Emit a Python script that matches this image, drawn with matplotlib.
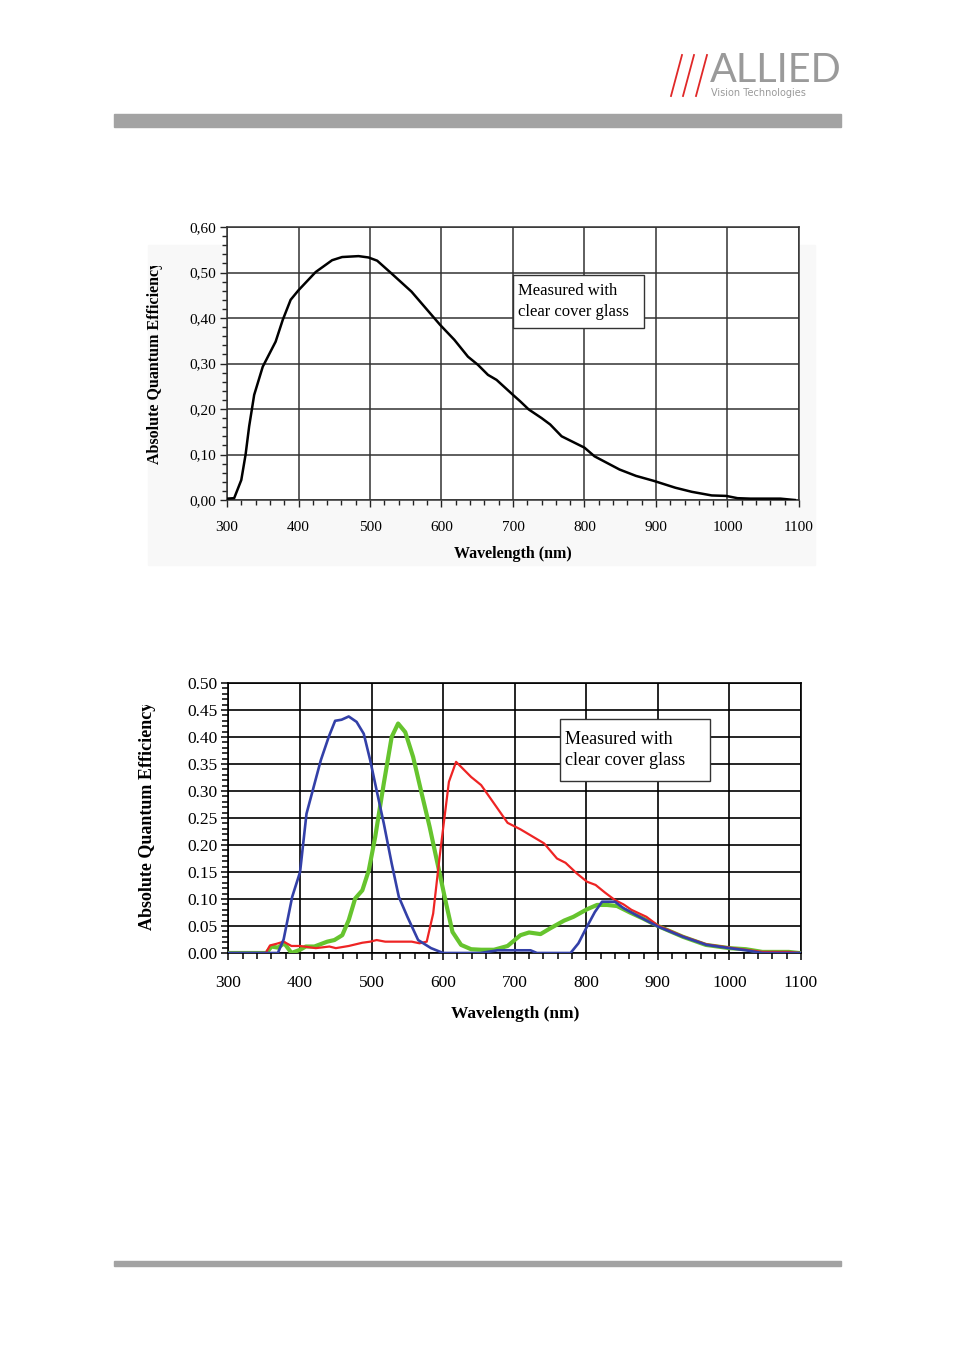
import numpy as np
import matplotlib
matplotlib.use('Agg')
import matplotlib.pyplot as plt
from matplotlib.patches import Rectangle
from matplotlib.lines import Line2D
from matplotlib.transforms import Bbox
from matplotlib.ticker import MultipleLocator

plt.rcParams['font.family'] = ['Liberation Serif', 'DejaVu Serif']

# ---- data ----
# top chart: monochrome sensor
wl_mono = [300, 310, 320, 326, 331, 338, 350, 368, 378, 389,
           400, 424, 447, 461, 484, 498, 510, 530, 558, 598,
           618, 637, 651, 665, 677, 700, 710, 722, 740, 752,
           768, 800, 814, 849, 872, 897, 927, 950, 978, 998,
           1014, 1032, 1074, 1094]
qe_mono = [0.003, 0.004, 0.044, 0.10, 0.162, 0.231, 0.293, 0.348, 0.396, 0.44,
           0.461, 0.501, 0.527, 0.534, 0.536, 0.533, 0.526, 0.498, 0.458, 0.385,
           0.352, 0.315, 0.297, 0.275, 0.264, 0.231, 0.217, 0.199, 0.180, 0.166,
           0.140, 0.115, 0.096, 0.067, 0.053, 0.042, 0.027, 0.018, 0.010, 0.009,
           0.004, 0.003, 0.003, 0.0]

# bottom chart: colour sensor
wl_blue = [300, 369, 377, 389, 400, 409, 429, 440, 449, 458,
           468, 479, 489, 498, 507, 517, 528, 538, 550, 565,
           583, 600, 652, 676, 722, 731, 778, 789, 801, 812, 822,
           840, 852, 870, 900, 935, 968, 1000, 1023, 1046, 1100]
qe_blue = [0, 0, 0.025, 0.104, 0.150, 0.258, 0.357, 0.400, 0.430, 0.432,
           0.438, 0.428, 0.406, 0.357, 0.301, 0.240, 0.166, 0.104, 0.067, 0.024,
           0.009, 0.0, 0.0, 0.005, 0.005, 0.0, 0.0, 0.018, 0.049, 0.076, 0.095,
           0.095, 0.083, 0.070, 0.049, 0.030, 0.015, 0.009, 0.005, 0.0, 0.0]

wl_red = [300, 352, 358, 367, 377, 388, 400, 422, 441, 450,
          468, 487, 498, 507, 519, 556, 567, 577, 586, 595,
          608, 618, 630, 639, 653, 671, 690, 708, 722, 741,
          759, 771, 787, 801, 813, 826, 840, 852, 863, 884,
          900, 935, 968, 1000, 1023, 1046, 1083, 1100]
qe_red = [0, 0, 0.014, 0.017, 0.021, 0.013, 0.013, 0.009, 0.012, 0.009,
          0.013, 0.019, 0.021, 0.024, 0.021, 0.021, 0.018, 0.021, 0.073, 0.178,
          0.317, 0.354, 0.338, 0.326, 0.311, 0.277, 0.241, 0.229, 0.218, 0.203,
          0.175, 0.167, 0.147, 0.132, 0.126, 0.112, 0.098, 0.090, 0.080, 0.067,
          0.051, 0.031, 0.016, 0.010, 0.006, 0.002, 0.002, 0.0]

wl_green = [300, 353, 360, 369, 378, 388, 400, 408, 420, 438,
            448, 459, 468, 477, 487, 496, 505, 517, 528, 537,
            547, 558, 570, 581, 593, 604, 613, 625, 639, 653,
            671, 690, 708, 720, 736, 750, 769, 782, 801, 815,
            829, 843, 861, 879, 900, 935, 967, 1000, 1023, 1046,
            1083, 1097, 1100]
qe_green = [0, 0, 0.012, 0.010, 0.018, 0.0, 0.006, 0.012, 0.012, 0.021,
            0.024, 0.033, 0.061, 0.101, 0.116, 0.153, 0.215, 0.314, 0.400, 0.425,
            0.409, 0.363, 0.295, 0.234, 0.160, 0.092, 0.039, 0.015, 0.007, 0.006,
            0.006, 0.013, 0.033, 0.038, 0.035, 0.046, 0.060, 0.067, 0.081, 0.089,
            0.089, 0.087, 0.075, 0.064, 0.050, 0.030, 0.015, 0.009, 0.007, 0.002,
            0.002, 0.0, 0.0]

x_ticks = [300, 400, 500, 600, 700, 800, 900, 1000, 1100]
y_ticks_top = [0.0, 0.1, 0.2, 0.3, 0.4, 0.5, 0.6]
y_ticks_bot = [0.0, 0.05, 0.10, 0.15, 0.20, 0.25, 0.30, 0.35, 0.40, 0.45, 0.50]

note = "Measured with\nclear cover glass"
ylab = "Absolute Quantum Efficiency"
xlab = "Wavelength (nm)"

W, H = 954, 1350
fig = plt.figure(figsize=(W / 100, H / 100), dpi=100)
fig.patch.set_facecolor('white')


def fx(px):
    return px / W


def fy(py):
    return 1 - py / H


# ---- page decoration ----
fig.patches.append(Rectangle((fx(114), fy(127)), fx(841) - fx(114), fy(114) - fy(127),
                             transform=fig.transFigure, color='#a3a3a3', zorder=0))
fig.patches.append(Rectangle((fx(114), fy(1266)), fx(841) - fx(114), fy(1261) - fy(1266),
                             transform=fig.transFigure, color='#a3a3a3', zorder=0))
# faint panel behind the top chart
fig.patches.append(Rectangle((fx(148), fy(565)), fx(815) - fx(148), fy(245) - fy(565),
                             transform=fig.transFigure, color='#f8f8f8', zorder=0))
for x0 in (671, 683, 696):
    fig.add_artist(Line2D([fx(x0), fx(x0 + 11)], [fy(96), fy(55)],
                          transform=fig.transFigure, color='#e02828', lw=1.3))
fig.text(fx(710), fy(70), "ALLIED", fontsize=28.5, color='#9a9a9a', family='Lato',
         va='center', ha='left')
fig.text(fx(711), fy(93), "Vision Technologies", fontsize=7, color='#9a9a9a',
         family='DejaVu Sans', va='center', ha='left')


def style_axes(ax, grid_color, lw):
    ax.set_xlim(300, 1100)
    ax.set_xticks(x_ticks)
    ax.xaxis.set_minor_locator(MultipleLocator(20))
    ax.grid(True, which='major', color=grid_color, lw=lw, zorder=1)
    for s in ax.spines.values():
        s.set_color(grid_color)
        s.set_linewidth(lw)
    ax.set_axisbelow(True)
    ax.set_zorder(2)


# ---- top chart ----
ax1 = fig.add_axes([fx(227), fy(500), fx(799) - fx(227), fy(227) - fy(500)])
ax1.set_facecolor('white')
style_axes(ax1, '#333333', 1.1)
ax1.set_ylim(0, 0.6)
ax1.set_yticks(y_ticks_top)
ax1.set_yticklabels([f"{v:.2f}".replace('.', ',') for v in y_ticks_top])
ax1.yaxis.set_minor_locator(MultipleLocator(0.02))
ax1.tick_params(axis='both', which='major', labelsize=11, length=5, width=1, color='#222')
ax1.tick_params(axis='both', which='minor', length=3.5, width=1, color='#222')
ax1.tick_params(axis='x', which='both', pad=10)
ax1.tick_params(axis='y', which='major', pad=3)
ax1.plot(wl_mono, qe_mono, color='black', lw=1.8, zorder=3)
ax1.add_patch(Rectangle((0.5, 0.63), 0.229, 0.194, transform=ax1.transAxes,
                        facecolor='white', edgecolor='#333', lw=1, zorder=4))
ax1.text(0.508, 0.727, note, transform=ax1.transAxes, fontsize=12, va='center',
         ha='left', linespacing=1.45, zorder=5)
fig.text(fx(513), fy(554), xlab, fontsize=11.5, fontweight='bold', ha='center', va='center')
t1 = fig.text(fx(155), fy(362), ylab, fontsize=11.5, fontweight='bold', rotation=90,
              ha='center', va='center', clip_on=True)
t1.set_clip_box(Bbox.from_extents(0, 0, W, H - 266))

# ---- bottom chart ----
ax2 = fig.add_axes([fx(228.5), fy(953), fx(801) - fx(228.5), fy(683) - fy(953)])
ax2.set_facecolor('white')
style_axes(ax2, 'black', 1.2)
ax2.set_ylim(0, 0.5)
ax2.set_yticks(y_ticks_bot)
ax2.set_yticklabels([f"{v:.2f}" for v in y_ticks_bot])
ax2.yaxis.set_minor_locator(MultipleLocator(0.01))
ax2.tick_params(axis='both', which='major', labelsize=12.5, length=5, width=1.1)
ax2.tick_params(axis='both', which='minor', length=4, width=1.1)
ax2.tick_params(axis='x', which='both', pad=11)
ax2.tick_params(axis='y', which='major', pad=3)
ax2.plot(wl_green, qe_green, color='#66c42e', lw=3.0, zorder=3)
ax2.plot(wl_red, qe_red, color='#ee2424', lw=1.6, zorder=4)
ax2.plot(wl_blue, qe_blue, color='#3340a8', lw=1.9, zorder=5)
ax2.add_patch(Rectangle((0.579, 0.637), 0.262, 0.23, transform=ax2.transAxes,
                        facecolor='white', edgecolor='#333', lw=1, zorder=6))
ax2.text(0.588, 0.753, note, transform=ax2.transAxes, fontsize=13, va='center',
         ha='left', linespacing=1.3, zorder=7)
fig.text(fx(515), fy(1014), xlab, fontsize=12.5, fontweight='bold', ha='center', va='center')
t2 = fig.text(fx(148), fy(816), ylab, fontsize=13, fontweight='bold', rotation=90,
              ha='center', va='center', clip_on=True)
t2.set_clip_box(Bbox.from_extents(0, 0, W, H - 705))

fig.savefig('out.png', dpi=100)
